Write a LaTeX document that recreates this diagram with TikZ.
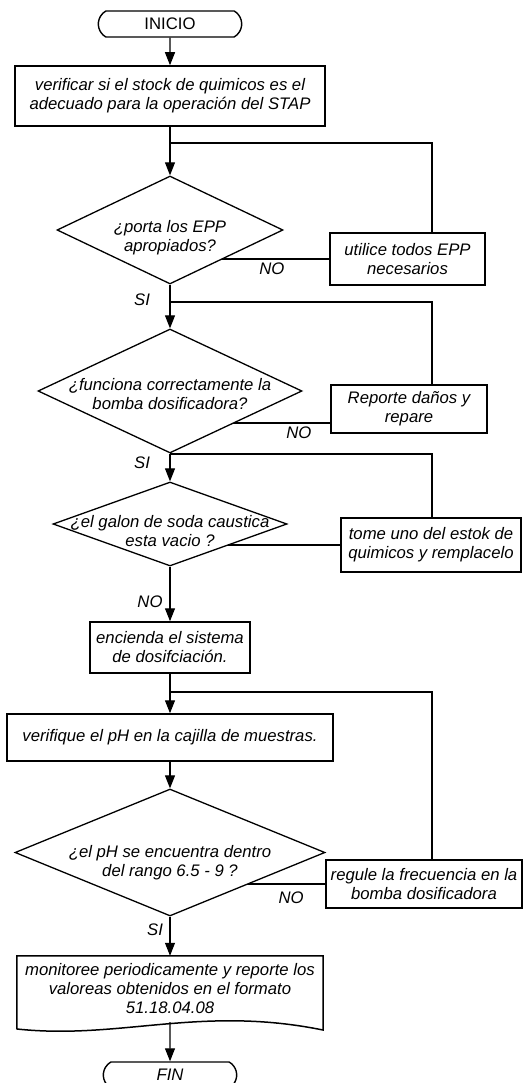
\documentclass[tikz,border=0pt]{standalone}
\usepackage{fontspec}
\setmainfont{Liberation Sans}
\usepackage{tikz}
\usetikzlibrary{shapes.geometric}
\usetikzlibrary{shapes.misc}
\usetikzlibrary{arrows.meta}
\usetikzlibrary{backgrounds}

\newcommand{\flowfont}{\fontsize{16.7}{19}\selectfont}

\tikzset{
    proc/.style={draw, line width=1.5pt, align=center, inner sep=2pt, font=\flowfont\itshape},
    decision/.style={draw, diamond, fill=white, line width=1.3pt, inner sep=0pt},
    dtext/.style={align=center, inner sep=0pt, font=\flowfont\itshape},
    term/.style={draw, rounded rectangle, rounded rectangle arc length=120, line width=1.4pt,
        minimum height=26pt, font=\flowfont},
    docu/.style={align=center, inner sep=0pt, font=\flowfont\itshape},
    lbl/.style={font=\flowfont\itshape},
    flow/.style={line width=1.1pt, -{Triangle[length=13pt, width=10pt]}},
    link/.style={line width=1.1pt}
}

\begin{document}
\begin{tikzpicture}[x=1pt, y=-1pt]
    \useasboundingbox (0,0) rectangle (530,1083);

    % Start and first check
    \node[term, minimum width=150pt] (inicio) at (170,24) {INICIO};
    \node[proc, minimum width=310pt, minimum height=60pt] (stock) at (170,96)
        {verificar si el stock de quimicos es el\\adecuado para la operación del STAP};

    % EPP
    \node[decision, minimum width=226pt, minimum height=108pt,
        label={[dtext, yshift=-8pt]center:{¿porta los EPP\\apropiados?}}] (epp) at (170,230) {};
    \node[proc, minimum width=155pt, minimum height=52pt] (usar) at (407.5,259)
        {utilice todos EPP\\necesarios};

    % Pump
    \node[decision, minimum width=264pt, minimum height=124pt,
        label={[dtext, yshift=-3pt]center:{¿funciona correctamente la\\bomba dosificadora?}}] (bomba) at (170,391) {};
    \node[proc, minimum width=156pt, minimum height=48pt] (repare) at (409,409)
        {Reporte daños y\\repare};

    % Caustic soda
    \node[decision, minimum width=234pt, minimum height=84pt,
        label={[dtext, yshift=-7pt]center:{¿el galon de soda caustica\\esta vacio ?}}] (galon) at (170,524) {};
    \node[proc, minimum width=180pt, minimum height=54pt] (reemplazo) at (431,545)
        {tome uno del estok de\\quimicos y remplacelo};

    % Dosing and pH
    \node[proc, minimum width=160pt, minimum height=51pt] (encender) at (170,647.5)
        {encienda el sistema\\de dosifciación.};
    \node[proc, minimum width=326pt, minimum height=47pt] (medir) at (170,737.5)
        {verifique el pH en la cajilla de muestras.};
    \node[decision, minimum width=310pt, minimum height=127pt,
        label={[dtext, yshift=-10pt]center:{¿el pH se encuentra dentro\\del rango 6.5 - 9 ?}}] (rango) at (170,852.5) {};
    \node[proc, minimum width=196pt, minimum height=48pt] (regular) at (424,884)
        {regule la frecuencia en la\\bomba dosificadora};

    % Report and end
    \node[docu, minimum width=306pt, minimum height=66pt] (reporte) at (170,989)
        {monitoree periodicamente y reporte los\\valoreas obtenidos en el formato\\51.18.04.08};
    \draw[line width=1.5pt] (reporte.north west) -- (reporte.north east) -- (323,1030)
        .. controls (200,1005) and (120,1040) .. (17,1029) -- cycle;
    \node[term, minimum width=140pt, font=\flowfont\itshape] (fin) at (170,1075) {FIN};

    % Junctions
    \coordinate (loopx) at (432,0);
    \coordinate (j1) at (170,143);
    \coordinate (j2) at (170,302);
    \coordinate (j3) at (170,454);
    \coordinate (j4) at (170,692);
    \coordinate (no2) at (331,423);

    % Main flow
    \draw[flow] (inicio) -- (stock);
    \draw[flow] (stock) -- (epp);
    \draw[flow] (epp) -- (bomba);
    \draw[flow] (bomba) -- (galon);
    \draw[flow] (galon) -- (encender);
    \draw[flow] (encender) -- (medir);
    \draw[flow] (medir) -- (rango);
    \draw[flow] (rango) -- (reporte);
    \draw[flow] (reporte) -- (fin);

    % Return loops
    \draw[link] (usar.north -| loopx) |- (j1);
    \draw[link] (repare.north -| loopx) |- (j2);
    \draw[link] (reemplazo.north -| loopx) |- (j3);
    \draw[link] (regular.north -| loopx) |- (j4);

    % NO branches
    \begin{scope}[on background layer]
        \draw[link] (usar.west) -- (usar.west -| epp.center) node[lbl, pos=0.36, below] {NO};
        \draw[link] (no2) -- (no2 -| bomba.center) node[lbl, pos=0.2, below] {NO};
        \draw[link] (reemplazo.west) -- (reemplazo.west -| galon.center);
        \draw[link] (regular.west) -- (regular.west -| rango.center) node[lbl, pos=0.22, below=4pt] {NO};
    \end{scope}

    % Branch labels
    \node[lbl] (si1) at (142,300) {SI};
    \node[lbl] (si2) at (142,463) {SI};
    \node[lbl] (no3) at (150,602) {NO};
    \node[lbl] (si3) at (155,930) {SI};
\end{tikzpicture}
\end{document}
